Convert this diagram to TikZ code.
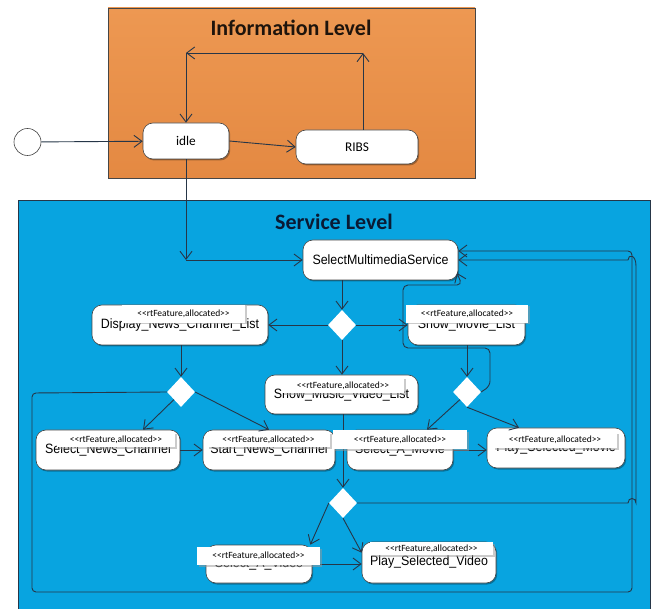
\documentclass[tikz,border=0pt]{standalone}
\usepackage{fontspec}
\usetikzlibrary{arrows.meta,shapes.geometric,shadows,calc}
\newfontfamily\lblfont[FakeStretch=0.92]{Liberation Sans}
\newfontfamily\calfont{Carlito}
\newfontfamily\stfont[Ligatures=TeXOff]{Carlito}
\definecolor{orangetop}{RGB}{237,152,82}
\definecolor{orangebot}{RGB}{228,137,66}
\definecolor{svcblue}{RGB}{8,164,224}
\definecolor{wirecol}{RGB}{38,54,72}
\definecolor{edgecol}{RGB}{70,70,70}
\definecolor{infotext}{RGB}{30,20,12}
\definecolor{svctext}{RGB}{10,26,52}

\begin{document}
\begin{tikzpicture}[x=1pt,y=-1pt,
  >={Straight Barb[length=8pt,width=12pt]},
  wire/.style={draw=wirecol,line width=0.9pt},
  flow/.style={wire,->},
  state/.style={draw=edgecol,line width=0.6pt,fill=white,rounded corners=10pt,
    inner sep=0pt,font=\lblfont\fontsize{13.5}{15}\selectfont,
    drop shadow={shadow xshift=1.2pt,shadow yshift=-1.5pt,fill=black,opacity=0.3}},
  infostate/.style={state,font=\calfont\fontsize{13.3}{15}\selectfont},
  stereo/.style={fill=white,inner sep=0pt,font=\stfont\fontsize{9.5}{10}\selectfont,
    drop shadow={shadow xshift=1.5pt,shadow yshift=-1.5pt,fill=black!40,opacity=0.5}},
  choice/.style={diamond,fill=white,minimum width=28pt,minimum height=30pt,inner sep=0pt},
  leveltitle/.style={font=\calfont\bfseries\fontsize{22}{24}\selectfont}
]
\useasboundingbox (0,0) rectangle (656,609);
\clip (0,0) rectangle (656,609);
\fill[white] (0,0) rectangle (656,609);

% ---------- level frames ----------
\path[top color=orangetop,bottom color=orangebot,draw=edgecol,line width=0.6pt]
  (108,8) rectangle (475,178);
\path[fill=svcblue,draw=wirecol,line width=0.6pt] (18,200) rectangle (650,625);
\node[leveltitle,text=infotext] (infotitle) at (291,28) {Information Level};
\node[leveltitle,text=svctext] (svctitle) at (334,222) {Service Level};

% ---------- information level ----------
\node[circle,draw=edgecol,line width=0.6pt,fill=white,minimum size=27pt] (init) at (27.5,142) {};
\node[infostate,minimum width=86pt,minimum height=36pt] (idle) at (186,141) {idle};
\node[infostate,minimum width=122pt,minimum height=34pt] (ribs) at (357,147) {RIBS};
\coordinate (rTop) at (363,53);
\coordinate (lTop) at (186,53);

% ---------- service level states ----------
\node[state,minimum width=155pt,minimum height=40pt] (sms) at (380.5,260) {SelectMultimediaService};
\node[choice] (d1) at (342,325) {};
\node[state,minimum width=176pt,minimum height=40pt] (dncl) at (180,325) {Display\_News\_Channel\_List};
\node[state,minimum width=117pt,minimum height=40pt] (sml) at (466.5,325) {Show\_Movie\_List};
\node[state,minimum width=153pt,minimum height=39pt] (smvl) at (341.5,394.5) {Show\_Music\_Video\_List};
\node[choice] (d2) at (181,392) {};
\node[choice] (d3) at (467,392) {};
\node[state,minimum width=144pt,minimum height=40pt] (snc) at (108,450) {Select\_News\_Channel};
\node[state,minimum width=132pt,minimum height=40pt] (stnc) at (269,450) {Start\_News\_Channel};
\node[state,minimum width=106pt,minimum height=40pt] (sam) at (400,450) {Select\_A\_Movie};
\node[state,minimum width=138pt,minimum height=40pt] (psm) at (556,448) {Play\_Selected\_Movie};
\node[choice] (d4) at (343,503) {};
\node[state,minimum width=106pt,minimum height=38pt] (sav) at (259,564) {Select\_A\_Video};
\node[state,minimum width=134pt,minimum height=41pt] (psv) at (429,562.5) {Play\_Selected\_Video};

% ---------- connectors: information level ----------
\draw[flow] (init) -- (idle);
\draw[flow] (idle.east) -- (ribs.west);
\draw[flow] (ribs.north -| rTop) -- (rTop);
\draw[flow] (rTop) -- (lTop);
\draw[flow] (lTop) -- (idle.north);
\coordinate (toSvc) at (idle.south |- sms.west);
\draw[flow] (idle.south) -- (toSvc);
\draw[flow] (toSvc) -- (sms.west);

% ---------- connectors: service level ----------
\draw[flow] (sms.south -| d1) -- (d1.north);
\draw[flow] (d1.west) -- (dncl.east);
\draw[flow] (d1.east) -- (sml.west);
\draw[flow] (d1.south) -- (smvl.north -| d1);
\draw[flow] (dncl.south -| d2) -- (d2.north);
\draw[flow] (d2.south west) -- ([xshift=35pt]snc.north);
\draw[flow] (d2.east) -- (stnc.north);
\draw[flow] (sml.south -| d3) -- (d3.north);
\draw[flow] (d3.south west) -- ([xshift=27pt]sam.north);
\draw[flow] (d3.south) -- ([xshift=-37pt]psm.north);
\draw[flow] (snc.east) -- (stnc.west);
\draw[flow] (sam.east) -- (psm.west |- sam.east);
\draw[flow] (smvl.south -| d4) -- (d4.north);
\draw[flow] (d4.west) -- ([xshift=-2pt]sav.north east);
\draw[flow] (d4.south) -- ([yshift=-11pt]psv.north west);
\draw[flow] (sav.east) -- (psv.west |- sav.east);

% return paths to SelectMultimediaService
\coordinate (smsLow) at (457,273);
\draw[flow,rounded corners=5pt] (d3.east) -- (490,386) -- (490,348) -- (403,348)
  -- (403,285) -- (462,285) -- (smsLow);
\draw[flow,rounded corners=4pt] (d2.west) -- (32,393) -- (32,592) -- (632,592)
  -- (632,251) -- (sms.east |- 0,251);
\draw[flow] (d4.east) -- (628,503) .. controls (628,497) and (636,497) .. (636,503)
  -- (636,266) .. controls (636,254) and (628,254) .. (628,260) -- (sms.east |- 0,260);

% ---------- stereotype labels ----------
\node[stereo,minimum width=123pt,minimum height=18pt] (st1) at (183.5,314) {<<rtFeature,allocated>>};
\node[stereo,minimum width=122pt,minimum height=18pt] (st2) at (467,314) {<<rtFeature,allocated>>};
\node[stereo,minimum width=122pt,minimum height=16pt] (st3) at (343,385.5) {<<rtFeature,allocated>>};
\node[stereo,minimum width=118pt,minimum height=15pt] (st4) at (116,439.5) {<<rtFeature,allocated>>};
\node[stereo,minimum width=123pt,minimum height=15pt] (st5) at (268.5,439.5) {<<rtFeature,allocated>>};
\node[stereo,minimum width=134pt,minimum height=19pt] (st6) at (400,439.5) {<<rtFeature,allocated>>};
\node[stereo,minimum width=124pt,minimum height=16pt] (st7) at (555,440) {<<rtFeature,allocated>>};
\node[stereo,minimum width=123pt,minimum height=18pt] (st8) at (258.5,556) {<<rtFeature,allocated>>};
\node[stereo,minimum width=123pt,minimum height=13pt] (st9) at (431.5,548.5) {<<rtFeature,allocated>>};
\end{tikzpicture}
\end{document}
